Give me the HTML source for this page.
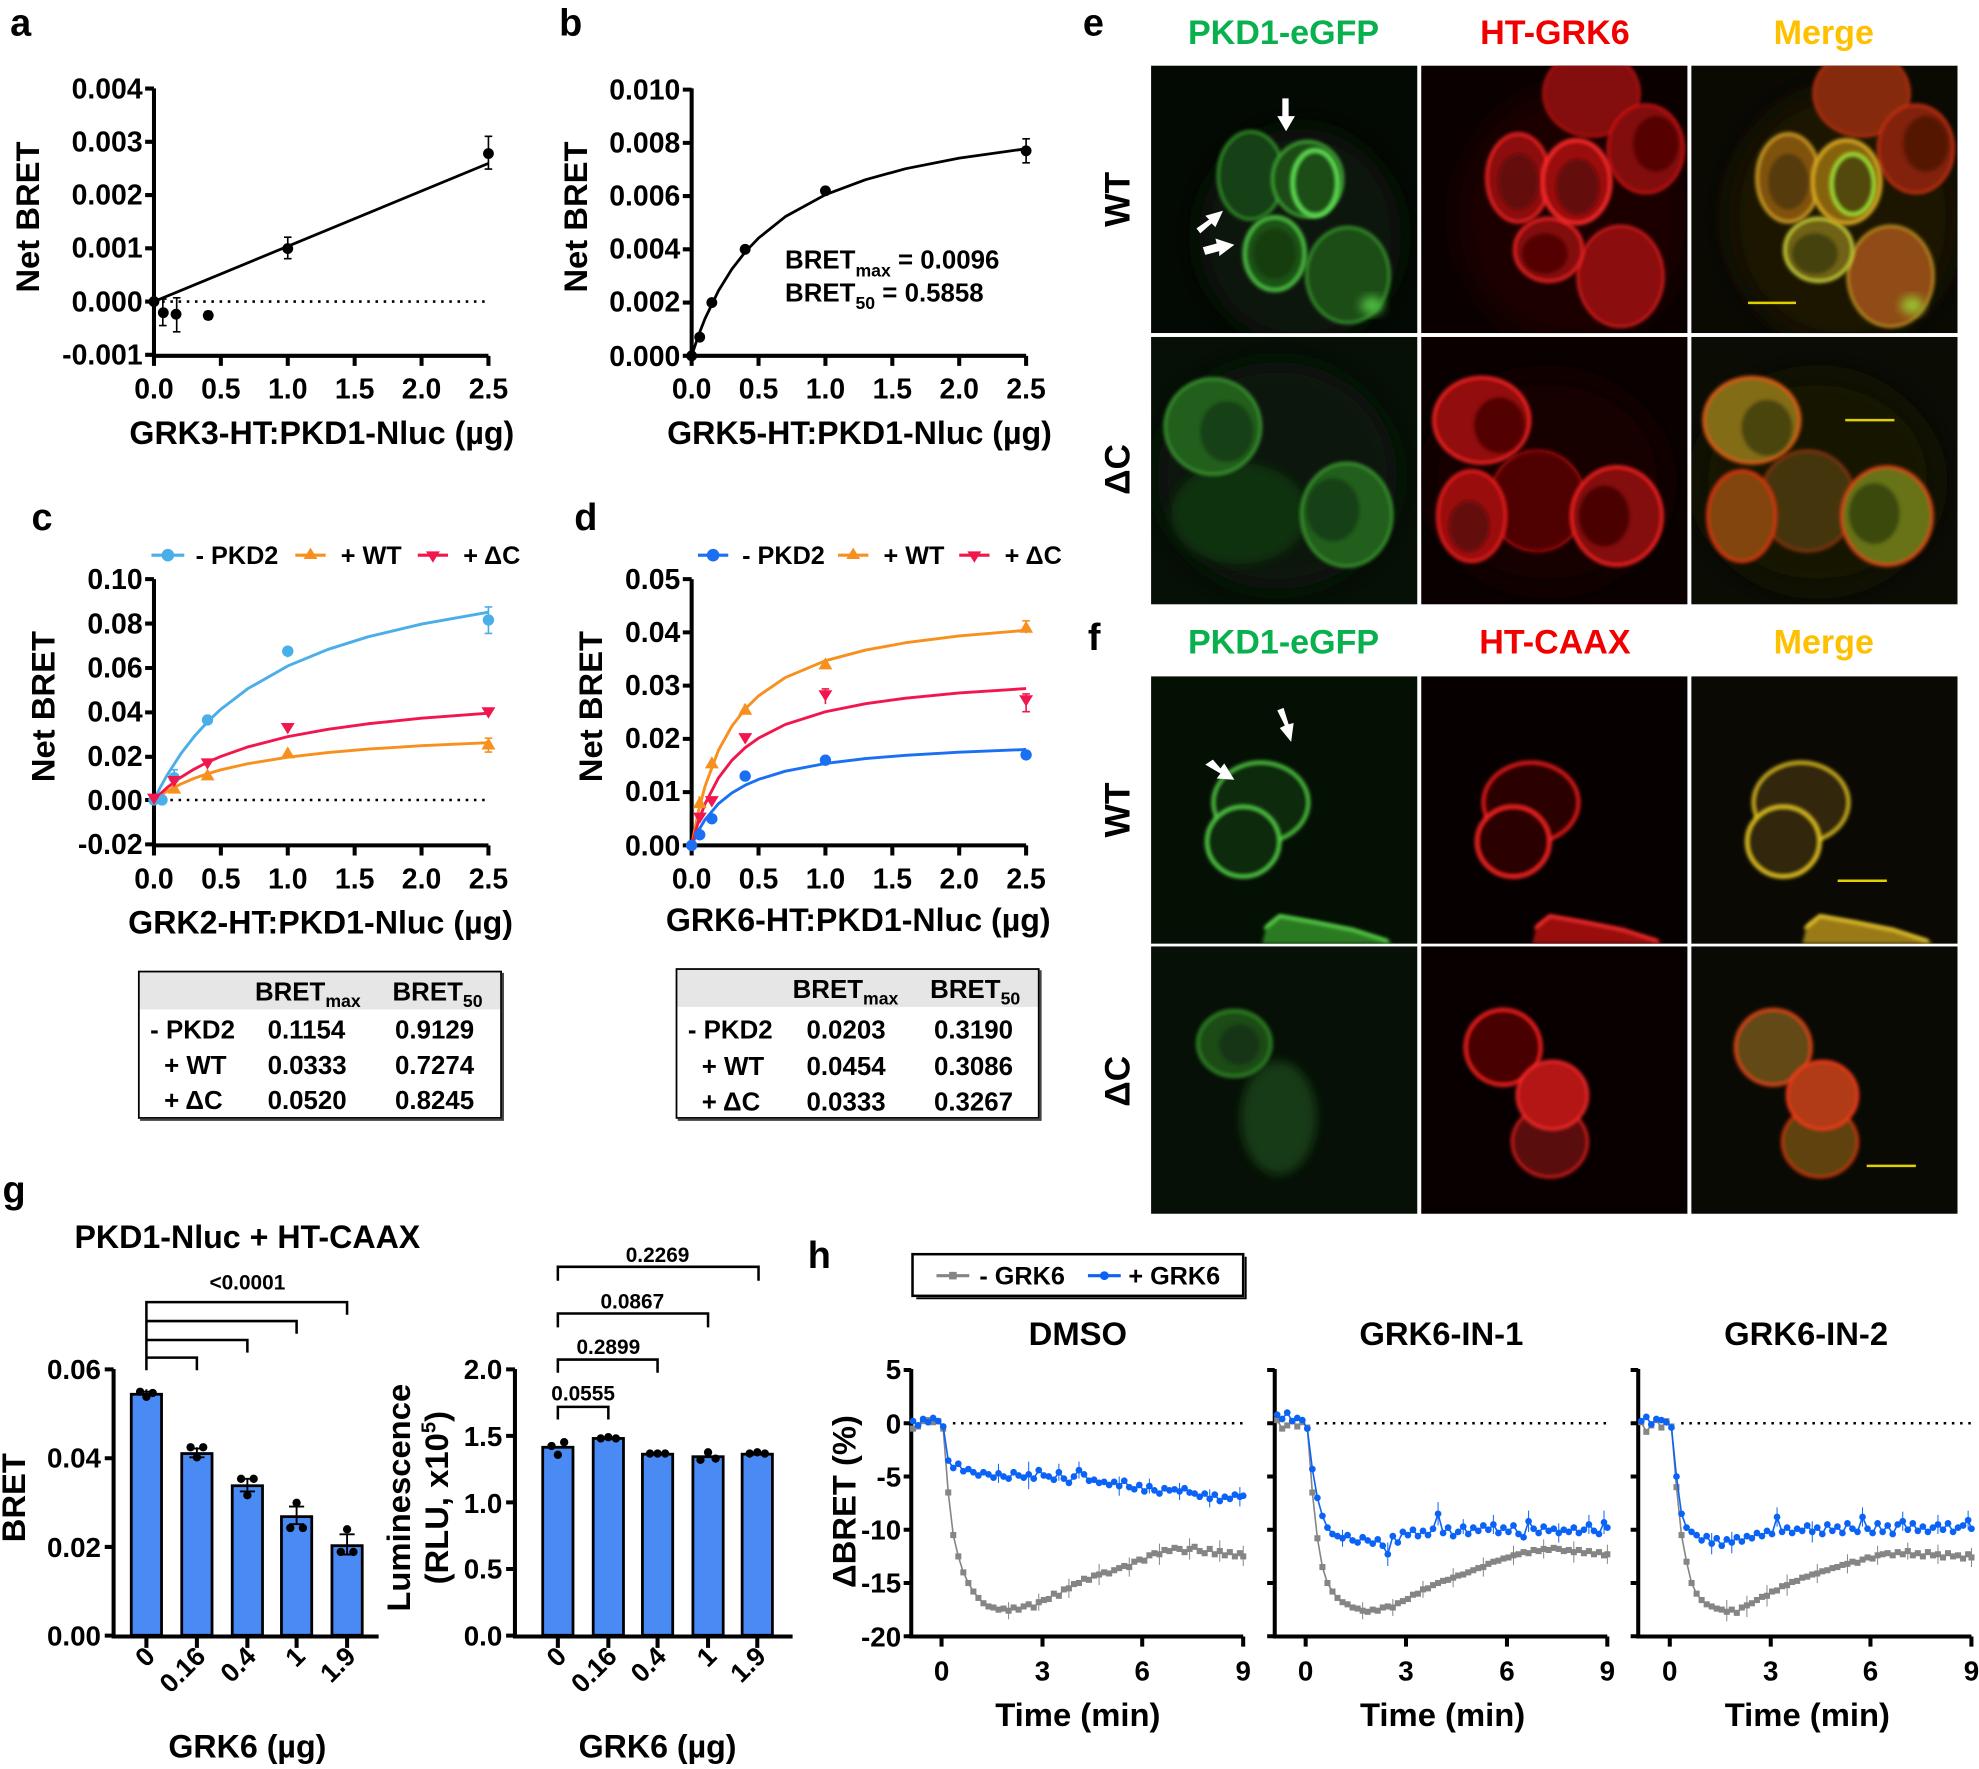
<!DOCTYPE html>
<html>
<head>
<meta charset="utf-8">
<style>
html,body{margin:0;padding:0;background:#fff;}
svg{display:block;}
.t{font-family:"Liberation Sans",Arial,sans-serif;font-weight:bold;fill:#000;}
</style>
</head>
<body>
<svg width="1979" height="1769" viewBox="0 0 1568 1402" preserveAspectRatio="none" xmlns="http://www.w3.org/2000/svg">
<defs>
  <clipPath id="pc"><rect x="0" y="0" width="211" height="212"/></clipPath>
  <filter id="b2" x="-30%" y="-30%" width="160%" height="160%"><feGaussianBlur stdDeviation="1.5"/></filter>
  <filter id="b4" x="-30%" y="-30%" width="160%" height="160%"><feGaussianBlur stdDeviation="4"/></filter>
  <filter id="b10" x="-50%" y="-50%" width="200%" height="200%"><feGaussianBlur stdDeviation="12"/></filter>
  <marker id="msq" markerUnits="userSpaceOnUse" overflow="visible" markerWidth="1" markerHeight="1" refX="0" refY="0"><rect x="-0.09" y="-0.285" width="0.18" height="0.57" fill="#858585"/></marker>
  <marker id="mci" markerUnits="userSpaceOnUse" overflow="visible" markerWidth="1" markerHeight="1" refX="0" refY="0"><ellipse cx="0" cy="0" rx="0.1" ry="0.315" fill="#0b63f6"/></marker>
</defs>

<!-- ================= PANEL a ================= -->
<text class="t" x="8" y="28" font-size="30">a</text>
<g stroke="#000" stroke-width="3.2" fill="none">
  <path d="M122,70 V282 H387"/>
  <path d="M115,70.2H122 M115,112.4H122 M115,154.6H122 M115,196.8H122 M115,239H122 M115,281.2H122"/>
  <path d="M122,282v8 M175,282v8 M228,282v8 M281,282v8 M334,282v8 M387,282v8"/>
</g>
<g class="t" font-size="22.5" text-anchor="end">
  <text x="113" y="78">0.004</text><text x="113" y="120">0.003</text><text x="113" y="162">0.002</text>
  <text x="113" y="204">0.001</text><text x="113" y="247">0.000</text><text x="113" y="289">-0.001</text>
</g>
<g class="t" font-size="22.5" text-anchor="middle">
  <text x="122" y="316">0.0</text><text x="175" y="316">0.5</text><text x="228" y="316">1.0</text>
  <text x="281" y="316">1.5</text><text x="334" y="316">2.0</text><text x="387" y="316">2.5</text>
</g>
<text class="t" font-size="26" text-anchor="middle" transform="translate(31,172) rotate(-90)">Net BRET</text>
<text class="t" font-size="25.5" text-anchor="middle" x="255" y="352">GRK3-HT:PKD1-Nluc (µg)</text>
<line x1="122" y1="239" x2="387" y2="239" stroke="#000" stroke-width="2" stroke-dasharray="2,4.5"/>
<line x1="122" y1="239" x2="387" y2="129.5" stroke="#000" stroke-width="2.2"/>
<g stroke="#000" stroke-width="1.3">
  <path d="M129,237V258 M126,237h6 M126,258h6"/>
  <path d="M140,236V263 M137,236h6 M137,263h6"/>
  <path d="M165,247V253 M162,247h6 M162,253h6"/>
  <path d="M228,188V205 M225,188h6 M225,205h6"/>
  <path d="M387,108V134 M384,108h6 M384,134h6"/>
</g>
<g fill="#000">
  <circle cx="122" cy="239" r="4.3"/><circle cx="129.4" cy="247.8" r="4.3"/><circle cx="139.5" cy="249" r="4.3"/>
  <circle cx="165" cy="250" r="4.3"/><circle cx="228" cy="197" r="4.3"/><circle cx="387" cy="121.7" r="4.3"/>
</g>

<!-- ================= PANEL b ================= -->
<text class="t" x="443" y="28" font-size="30">b</text>
<g stroke="#000" stroke-width="3.2" fill="none">
  <path d="M548,70 V282 H813"/>
  <path d="M541,71H548 M541,113.2H548 M541,155.4H548 M541,197.6H548 M541,239.8H548 M541,282H548"/>
  <path d="M548,282v8 M601,282v8 M654,282v8 M707,282v8 M760,282v8 M813,282v8"/>
</g>
<g class="t" font-size="22.5" text-anchor="end">
  <text x="539" y="79">0.010</text><text x="539" y="121">0.008</text><text x="539" y="163">0.006</text>
  <text x="539" y="205">0.004</text><text x="539" y="247">0.002</text><text x="539" y="290">0.000</text>
</g>
<g class="t" font-size="22.5" text-anchor="middle">
  <text x="548" y="316">0.0</text><text x="601" y="316">0.5</text><text x="654" y="316">1.0</text>
  <text x="707" y="316">1.5</text><text x="760" y="316">2.0</text><text x="813" y="316">2.5</text>
</g>
<text class="t" font-size="26" text-anchor="middle" transform="translate(465,172) rotate(-90)">Net BRET</text>
<text class="t" font-size="25.5" text-anchor="middle" x="681" y="352">GRK5-HT:PKD1-Nluc (µg)</text>
<polyline fill="none" stroke="#000" stroke-width="2.2" stroke-linejoin="round" points="548,282 553.3,266.1 558.6,252.5 569.2,230.5 579.8,213.4 590.4,199.8 601,188.7 622.2,171.7 654,154.3 685.8,142.4 717.6,133.7 760,125.3 813,117.9"/>
<g stroke="#000" stroke-width="1.3"><path d="M813,110V129 M810,110h6 M810,129h6"/></g>
<g fill="#000">
  <circle cx="548" cy="282" r="4.3"/><circle cx="554.4" cy="267.2" r="4.3"/><circle cx="564" cy="239.8" r="4.3"/>
  <circle cx="590.4" cy="197.6" r="4.3"/><circle cx="654" cy="151.2" r="4.3"/><circle cx="813" cy="119.5" r="4.3"/>
</g>
<text class="t" font-size="20.5" x="622" y="213">BRET<tspan font-size="14" dy="6">max</tspan><tspan dy="-6"> = 0.0096</tspan></text>
<text class="t" font-size="20.5" x="622" y="239">BRET<tspan font-size="14" dy="6">50</tspan><tspan dy="-6"> = 0.5858</tspan></text>

<!-- ================= PANEL c ================= -->
<text class="t" x="25" y="420" font-size="30">c</text>
<g>
  <line x1="120" y1="440" x2="146" y2="440" stroke="#4aaee9" stroke-width="2.5"/><circle cx="133" cy="440" r="5" fill="#4aaee9"/>
  <text class="t" font-size="20" x="155" y="447">- PKD2</text>
  <line x1="234" y1="440" x2="258" y2="440" stroke="#f7901e" stroke-width="2.5"/><polygon points="246,434 251.5,443 240.5,443" fill="#f7901e"/>
  <text class="t" font-size="20" x="270" y="447">+ WT</text>
  <line x1="331" y1="440" x2="355" y2="440" stroke="#f2164e" stroke-width="2.5"/><polygon points="343,446 348.5,437 337.5,437" fill="#f2164e"/>
  <text class="t" font-size="20" x="367" y="447">+ ΔC</text>
</g>
<g stroke="#000" stroke-width="3.2" fill="none">
  <path d="M122,459 V670 H387"/>
  <path d="M115,459H122 M115,494.2H122 M115,529.4H122 M115,564.6H122 M115,599.8H122 M115,634H122 M115,669.2H122"/>
  <path d="M122,670v8 M175,670v8 M228,670v8 M281,670v8 M334,670v8 M387,670v8"/>
</g>
<g class="t" font-size="22.5" text-anchor="end">
  <text x="113" y="467">0.10</text><text x="113" y="502">0.08</text><text x="113" y="537">0.06</text>
  <text x="113" y="572">0.04</text><text x="113" y="607">0.02</text><text x="113" y="642">0.00</text><text x="113" y="677">-0.02</text>
</g>
<g class="t" font-size="22.5" text-anchor="middle">
  <text x="122" y="704">0.0</text><text x="175" y="704">0.5</text><text x="228" y="704">1.0</text>
  <text x="281" y="704">1.5</text><text x="334" y="704">2.0</text><text x="387" y="704">2.5</text>
</g>
<text class="t" font-size="26" text-anchor="middle" transform="translate(43,560) rotate(-90)">Net BRET</text>
<text class="t" font-size="25.5" text-anchor="middle" x="254" y="740">GRK2-HT:PKD1-Nluc (µg)</text>
<line x1="122" y1="634" x2="387" y2="634" stroke="#000" stroke-width="2" stroke-dasharray="2,4.5"/>
<polyline fill="none" stroke="#4aaee9" stroke-width="2.3" stroke-linejoin="round" points="122,634 127.3,623.5 132.6,614 143.2,597.5 153.8,583.8 164.4,572.1 175,562.1 196.2,545.9 228,527.8 259.8,514.7 291.6,504.7 334,494.6 387,485.2"/>
<polyline fill="none" stroke="#f7901e" stroke-width="2.3" stroke-linejoin="round" points="122,634 127.3,630.2 132.6,626.9 143.2,621.4 153.8,616.9 164.4,613.2 175,610.1 196.2,605.3 228,600.1 259.8,596.4 291.6,593.7 334,591 387,588.6"/>
<polyline fill="none" stroke="#f2164e" stroke-width="2.3" stroke-linejoin="round" points="122,634 127.3,628.8 132.6,624.1 143.2,616.1 153.8,609.6 164.4,604.1 175,599.5 196.2,592 228,583.8 259.8,578 291.6,573.6 334,569.2 387,565.2"/>
<g stroke-width="1.3">
  <path d="M138,610V623 M135,610h6" stroke="#4aaee9"/>
  <path d="M228,512V521 M387,481V502 M384,481h6 M384,502h6" stroke="#4aaee9"/>
  <path d="M387,585V596 M384,585h6 M384,596h6" stroke="#f7901e"/>
</g>
<g fill="#4aaee9">
  <circle cx="122" cy="634" r="4.5"/><circle cx="128.4" cy="634" r="4.5"/><circle cx="138" cy="616.4" r="4.5"/>
  <circle cx="164.4" cy="570.6" r="4.5"/><circle cx="228" cy="516.1" r="4.5"/><circle cx="387" cy="491.4" r="4.5"/>
</g>
<g fill="#f7901e">
  <polygon points="138,619.5 143.5,629 132.5,629"/><polygon points="164.4,609 170,618.5 159,618.5"/>
  <polygon points="228,591.5 233.5,601 222.5,601"/><polygon points="387,584.5 392.5,594 381.5,594"/>
</g>
<g fill="#f2164e">
  <polygon points="122,638 127.5,629 116.5,629"/><polygon points="138,624 143.5,615 132.5,615"/>
  <polygon points="164.4,610 170,601 159,601"/><polygon points="228,582 233.5,573 222.5,573"/>
  <polygon points="387,569.5 392.5,560.5 381.5,560.5"/>
</g>

<!-- ================= PANEL d ================= -->
<text class="t" x="455" y="420" font-size="30">d</text>
<g>
  <line x1="553" y1="440" x2="577" y2="440" stroke="#1a6ff2" stroke-width="2.5"/><circle cx="565" cy="440" r="5" fill="#1a6ff2"/>
  <text class="t" font-size="20" x="588" y="447">- PKD2</text>
  <line x1="664" y1="440" x2="688" y2="440" stroke="#f7901e" stroke-width="2.5"/><polygon points="676,434 681.5,443 670.5,443" fill="#f7901e"/>
  <text class="t" font-size="20" x="700" y="447">+ WT</text>
  <line x1="760" y1="440" x2="784" y2="440" stroke="#f2164e" stroke-width="2.5"/><polygon points="772,446 777.5,437 766.5,437" fill="#f2164e"/>
  <text class="t" font-size="20" x="796" y="447">+ ΔC</text>
</g>
<g stroke="#000" stroke-width="3.2" fill="none">
  <path d="M548,459 V670 H813"/>
  <path d="M541,459H548 M541,501.2H548 M541,543.4H548 M541,585.6H548 M541,627.8H548 M541,670H548"/>
  <path d="M548,670v8 M601,670v8 M654,670v8 M707,670v8 M760,670v8 M813,670v8"/>
</g>
<g class="t" font-size="22.5" text-anchor="end">
  <text x="539" y="467">0.05</text><text x="539" y="509">0.04</text><text x="539" y="551">0.03</text>
  <text x="539" y="593">0.02</text><text x="539" y="635">0.01</text><text x="539" y="678">0.00</text>
</g>
<g class="t" font-size="22.5" text-anchor="middle">
  <text x="548" y="704">0.0</text><text x="601" y="704">0.5</text><text x="654" y="704">1.0</text>
  <text x="707" y="704">1.5</text><text x="760" y="704">2.0</text><text x="813" y="704">2.5</text>
</g>
<text class="t" font-size="26" text-anchor="middle" transform="translate(477,560) rotate(-90)">Net BRET</text>
<text class="t" font-size="25.5" text-anchor="middle" x="680" y="738">GRK6-HT:PKD1-Nluc (µg)</text>
<polyline fill="none" stroke="#1a6ff2" stroke-width="2.3" stroke-linejoin="round" points="548,670 553.3,658.4 558.6,649.6 569.2,637 579.8,628.5 590.4,622.3 601,617.7 622.2,611.2 654,605.1 685.8,601.2 717.6,598.6 760,596.1 813,594"/>
<polyline fill="none" stroke="#f7901e" stroke-width="2.3" stroke-linejoin="round" points="548,670 553.3,643.3 558.6,623.1 569.2,594.7 579.8,575.6 590.4,561.9 601,551.5 622.2,537 654,523.6 685.8,515.2 717.6,509.4 760,504 813,499.5"/>
<polyline fill="none" stroke="#f2164e" stroke-width="2.3" stroke-linejoin="round" points="548,670 553.3,651.3 558.6,637.1 569.2,616.6 579.8,602.7 590.4,592.6 601,585 622.2,574.2 654,564.1 685.8,557.7 717.6,553.3 760,549.2 813,545.7"/>
<g stroke-width="1.3">
  <path d="M554,631V641 M564,600V609 M590,558V566 M654,523V530 M813,492V502 M810,492h6" stroke="#f7901e"/>
  <path d="M654,546V558 M651,546h6 M813,550V564 M810,550h6 M810,564h6" stroke="#f2164e"/>
</g>
<g fill="#1a6ff2">
  <circle cx="548" cy="670" r="4.5"/><circle cx="554.4" cy="661.6" r="4.5"/><circle cx="564" cy="648.9" r="4.5"/>
  <circle cx="590.4" cy="615.1" r="4.5"/><circle cx="654" cy="602.5" r="4.5"/><circle cx="813" cy="598.3" r="4.5"/>
</g>
<g fill="#f7901e">
  <polygon points="554.4,631 560,640.5 549,640.5"/><polygon points="564,599.5 569.5,609 558.5,609"/>
  <polygon points="590.4,557 596,566.5 585,566.5"/><polygon points="654,521 659.5,530.5 648.5,530.5"/>
  <polygon points="813,492 818.5,501.5 807.5,501.5"/>
</g>
<g fill="#f2164e">
  <polygon points="554.4,653 560,644 549,644"/><polygon points="564,640 569.5,631 558.5,631"/>
  <polygon points="590.4,590 596,581 585,581"/><polygon points="654,556 659.5,547 648.5,547"/>
  <polygon points="813,560 818.5,551 807.5,551"/>
</g>

<!-- ================= TABLES ================= -->
<g>
  <rect x="110" y="770" width="287" height="30" fill="#e6e6e6"/>
  <rect x="110" y="770" width="287" height="116" fill="none" stroke="#000" stroke-width="1.4"/>
  <path d="M111,887.5H398.5V771" fill="none" stroke="#444" stroke-width="1.6"/>
  <g class="t" font-size="20.5">
    <text x="202" y="793">BRET<tspan font-size="14" dy="5">max</tspan></text>
    <text x="311" y="793">BRET<tspan font-size="14" dy="5">50</tspan></text>
    <text x="119" y="823">- PKD2</text><text x="212" y="823">0.1154</text><text x="313" y="823">0.9129</text>
    <text x="130" y="851">+ WT</text><text x="212" y="851">0.0333</text><text x="313" y="851">0.7274</text>
    <text x="130" y="879">+ ΔC</text><text x="212" y="879">0.0520</text><text x="313" y="879">0.8245</text>
  </g>
</g>
<g>
  <rect x="536" y="768" width="287" height="30" fill="#e6e6e6"/>
  <rect x="536" y="768" width="287" height="118" fill="none" stroke="#000" stroke-width="1.4"/>
  <path d="M537,887.5H824.5V769" fill="none" stroke="#444" stroke-width="1.6"/>
  <g class="t" font-size="20.5">
    <text x="628" y="791">BRET<tspan font-size="14" dy="5">max</tspan></text>
    <text x="737" y="791">BRET<tspan font-size="14" dy="5">50</tspan></text>
    <text x="545" y="823">- PKD2</text><text x="639" y="823">0.0203</text><text x="740" y="823">0.3190</text>
    <text x="556" y="852">+ WT</text><text x="639" y="852">0.0454</text><text x="740" y="852">0.3086</text>
    <text x="556" y="880">+ ΔC</text><text x="639" y="880">0.0333</text><text x="740" y="880">0.3267</text>
  </g>
</g>

<!-- ================= PANEL e / f headers ================= -->
<text class="t" x="858" y="28" font-size="30">e</text>
<text class="t" x="862" y="515" font-size="30">f</text>
<g class="t" font-size="27" text-anchor="middle">
  <text x="1017" y="35" style="fill:#08b04e">PKD1-eGFP</text>
  <text x="1232" y="35" style="fill:#f20000">HT-GRK6</text>
  <text x="1445" y="35" style="fill:#ffc000">Merge</text>
  <text x="1017" y="518" style="fill:#08b04e">PKD1-eGFP</text>
  <text x="1232" y="518" style="fill:#f20000">HT-CAAX</text>
  <text x="1445" y="518" style="fill:#ffc000">Merge</text>
</g>
<g class="t" font-size="28" text-anchor="middle">
  <text transform="translate(895,158) rotate(-90)">WT</text>
  <text transform="translate(895,372) rotate(-90)">ΔC</text>
  <text transform="translate(895,642) rotate(-90)">WT</text>
  <text transform="translate(895,857) rotate(-90)">ΔC</text>
</g>

<!-- e WT green -->
<g transform="translate(912,52)" clip-path="url(#pc)">
  <rect width="211" height="212" fill="#030903"/>
  <ellipse cx="118" cy="135" rx="80" ry="85" fill="#091909" filter="url(#b10)"/>
  <ellipse cx="156" cy="166" rx="33" ry="38" fill="#1a4e15" stroke="#37982e" stroke-width="2" filter="url(#b2)"/>
  <ellipse cx="98" cy="149" rx="24" ry="29" fill="#1b5216" stroke="#4cc042" stroke-width="3" filter="url(#b2)"/>
  <ellipse cx="98" cy="149" rx="17" ry="20" fill="#123e10" filter="url(#b2)"/>
  <ellipse cx="79" cy="87" rx="26" ry="35" fill="#163f13" stroke="#35962c" stroke-width="2" filter="url(#b2)"/>
  <ellipse cx="124" cy="90" rx="28" ry="30" fill="#1a4c15" stroke="#42ae38" stroke-width="2" filter="url(#b2)"/>
  <ellipse cx="130" cy="93" rx="18" ry="26" fill="#1a4e15" stroke="#5fe052" stroke-width="3.5" filter="url(#b2)"/>
  <ellipse cx="175" cy="190" rx="9" ry="7" fill="#4fbe42" filter="url(#b4)"/>
  <g fill="#fff">
    <polygon points="104,26 109,26 109,40 114,40 107,52 100,40 104,40"/>
    <polygon points="36,129 46,122 43,119 57,115 51,128 48,125 39,133"/>
    <polygon points="41,144 52,141 51,137 66,142 54,151 54,147 43,150"/>
  </g>
</g>
<!-- e WT red -->
<g transform="translate(1126,52)" clip-path="url(#pc)">
  <rect width="211" height="212" fill="#0b0000"/>
  <ellipse cx="120" cy="120" rx="90" ry="100" fill="#1c0101" filter="url(#b10)"/>
  <ellipse cx="135" cy="22" rx="38" ry="34" fill="#840b0b" stroke="#b81414" stroke-width="2" filter="url(#b2)"/>
  <ellipse cx="178" cy="66" rx="30" ry="35" fill="#820a0a" stroke="#d01818" stroke-width="2" filter="url(#b2)"/>
  <ellipse cx="186" cy="62" rx="18" ry="22" fill="#560606" filter="url(#b2)"/>
  <ellipse cx="158" cy="167" rx="34" ry="40" fill="#8c0c0c" stroke="#d41a1a" stroke-width="2" filter="url(#b2)"/>
  <ellipse cx="101" cy="146" rx="27" ry="25" fill="#820a0a" stroke="#ea2020" stroke-width="2.5" filter="url(#b2)"/>
  <ellipse cx="98" cy="149" rx="18" ry="16" fill="#540505" filter="url(#b2)"/>
  <ellipse cx="77" cy="89" rx="25" ry="35" fill="#8c0c0c" stroke="#ea2222" stroke-width="2.5" filter="url(#b2)"/>
  <ellipse cx="123" cy="92" rx="27" ry="33" fill="#9a0f0f" stroke="#ff2a2a" stroke-width="3" filter="url(#b2)"/>
  <ellipse cx="124" cy="96" rx="17" ry="22" fill="#640707" filter="url(#b2)"/>
  <ellipse cx="77" cy="92" rx="16" ry="22" fill="#640707" filter="url(#b2)"/>
</g>
<!-- e WT merge -->
<g transform="translate(1340,52)" clip-path="url(#pc)">
  <rect width="211" height="212" fill="#0a0a03"/>
  <ellipse cx="120" cy="120" rx="90" ry="100" fill="#1c1304" filter="url(#b10)"/>
  <ellipse cx="135" cy="22" rx="38" ry="34" fill="#862a0c" stroke="#b83010" stroke-width="2" filter="url(#b2)"/>
  <ellipse cx="178" cy="66" rx="30" ry="35" fill="#82240c" stroke="#c83012" stroke-width="2" filter="url(#b2)"/>
  <ellipse cx="186" cy="62" rx="18" ry="22" fill="#541606" filter="url(#b2)"/>
  <ellipse cx="158" cy="167" rx="34" ry="40" fill="#904c14" stroke="#c09020" stroke-width="2" filter="url(#b2)"/>
  <ellipse cx="101" cy="146" rx="27" ry="25" fill="#706214" stroke="#c8d03a" stroke-width="2.5" filter="url(#b2)"/>
  <ellipse cx="98" cy="149" rx="18" ry="16" fill="#444208" filter="url(#b2)"/>
  <ellipse cx="77" cy="89" rx="25" ry="35" fill="#80520f" stroke="#d09c26" stroke-width="2.5" filter="url(#b2)"/>
  <ellipse cx="123" cy="92" rx="27" ry="33" fill="#86620f" stroke="#d8a820" stroke-width="3" filter="url(#b2)"/>
  <ellipse cx="128" cy="94" rx="17" ry="24" fill="#524a0c" stroke="#a0e036" stroke-width="3" filter="url(#b2)"/>
  <ellipse cx="77" cy="92" rx="16" ry="22" fill="#563a0a" filter="url(#b2)"/>
  <ellipse cx="175" cy="190" rx="9" ry="7" fill="#98c42e" filter="url(#b4)"/>
  <line x1="45" y1="188" x2="83" y2="188" stroke="#e0d000" stroke-width="2"/>
</g>

<!-- e dC green -->
<g transform="translate(912,267)" clip-path="url(#pc)">
  <rect width="211" height="212" fill="#061006"/>
  <ellipse cx="100" cy="110" rx="95" ry="90" fill="#091709" filter="url(#b10)"/>
  <ellipse cx="70" cy="140" rx="54" ry="40" fill="#113210" filter="url(#b4)"/>
  <ellipse cx="49" cy="71" rx="38" ry="38" fill="#225e1c" stroke="#3c9c32" stroke-width="2" filter="url(#b2)"/>
  <ellipse cx="60" cy="75" rx="21" ry="24" fill="#173f14" filter="url(#b2)"/>
  <ellipse cx="155" cy="141" rx="36" ry="41" fill="#225e1c" stroke="#3c9c32" stroke-width="2" filter="url(#b2)"/>
  <ellipse cx="144" cy="137" rx="21" ry="25" fill="#183f14" filter="url(#b2)"/>
</g>
<!-- e dC red -->
<g transform="translate(1126,267)" clip-path="url(#pc)">
  <rect width="211" height="212" fill="#0a0000"/>
  <ellipse cx="100" cy="115" rx="95" ry="85" fill="#180101" filter="url(#b10)"/>
  <ellipse cx="92" cy="130" rx="38" ry="40" fill="#500606" stroke="#981010" stroke-width="2" filter="url(#b2)"/>
  <ellipse cx="40" cy="142" rx="27" ry="36" fill="#9a1010" stroke="#e81e1e" stroke-width="2.5" filter="url(#b2)"/>
  <ellipse cx="38" cy="150" rx="16" ry="20" fill="#640707" filter="url(#b2)"/>
  <ellipse cx="48" cy="66" rx="38" ry="34" fill="#920e0e" stroke="#f82222" stroke-width="2.5" filter="url(#b2)"/>
  <ellipse cx="62" cy="70" rx="20" ry="22" fill="#520505" filter="url(#b2)"/>
  <ellipse cx="155" cy="142" rx="36" ry="39" fill="#840c0c" stroke="#f82020" stroke-width="2.5" filter="url(#b2)"/>
  <ellipse cx="145" cy="142" rx="20" ry="24" fill="#4c0505" filter="url(#b2)"/>
</g>
<!-- e dC merge -->
<g transform="translate(1340,267)" clip-path="url(#pc)">
  <rect width="211" height="212" fill="#0b0c04"/>
  <ellipse cx="100" cy="115" rx="95" ry="85" fill="#171204" filter="url(#b10)"/>
  <ellipse cx="92" cy="130" rx="38" ry="40" fill="#443408" stroke="#883010" stroke-width="2" filter="url(#b2)"/>
  <ellipse cx="40" cy="142" rx="27" ry="36" fill="#824410" stroke="#d83010" stroke-width="2.5" filter="url(#b2)"/>
  <ellipse cx="48" cy="66" rx="38" ry="34" fill="#826c16" stroke="#e05a18" stroke-width="2.5" filter="url(#b2)"/>
  <ellipse cx="60" cy="72" rx="20" ry="22" fill="#48440c" filter="url(#b2)"/>
  <ellipse cx="155" cy="142" rx="36" ry="39" fill="#687218" stroke="#d83c16" stroke-width="2.5" filter="url(#b2)"/>
  <ellipse cx="145" cy="140" rx="20" ry="24" fill="#3a4a0e" filter="url(#b2)"/>
  <line x1="122" y1="66" x2="161" y2="66" stroke="#e0d000" stroke-width="2"/>
</g>

<!-- f WT green -->
<g transform="translate(912,536)" clip-path="url(#pc)">
  <rect width="211" height="212" fill="#051005"/>
  <ellipse cx="87" cy="100" rx="38" ry="32" fill="#102c0e" stroke="#52d044" stroke-width="2.3" filter="url(#b2)"/>
  <ellipse cx="73" cy="131" rx="29" ry="28" fill="#0f2a0d" stroke="#58d84a" stroke-width="2.5" filter="url(#b2)"/>
  <path d="M88,212 L92,196 L102,189 L130,194 L160,200 L185,208 L192,212 Z" fill="#2a7a22" filter="url(#b2)"/>
  <path d="M90,200 L102,190 L130,195 L160,201 L188,210" fill="none" stroke="#5ee050" stroke-width="2.5" filter="url(#b2)"/>
  <g fill="#fff">
    <polygon points="100,27 105,25 109,38 113,37 111,52 102,41 106,39"/>
    <polygon points="43,70 49,66 55,73 58,69 66,82 52,81 55,77"/>
  </g>
</g>
<!-- f WT red -->
<g transform="translate(1126,536)" clip-path="url(#pc)">
  <rect width="211" height="212" fill="#070000"/>
  <ellipse cx="87" cy="100" rx="38" ry="32" fill="#2c0303" stroke="#f21e1e" stroke-width="2.3" filter="url(#b2)"/>
  <ellipse cx="73" cy="131" rx="29" ry="28" fill="#2c0303" stroke="#ff2626" stroke-width="2.8" filter="url(#b2)"/>
  <path d="M88,212 L92,196 L102,189 L130,194 L160,200 L185,208 L192,212 Z" fill="#9a1010" filter="url(#b2)"/>
  <path d="M90,200 L102,190 L130,195 L160,201 L188,210" fill="none" stroke="#ff3030" stroke-width="2.5" filter="url(#b2)"/>
</g>
<!-- f WT merge -->
<g transform="translate(1340,536)" clip-path="url(#pc)">
  <rect width="211" height="212" fill="#0a0904"/>
  <ellipse cx="87" cy="100" rx="38" ry="32" fill="#322808" stroke="#e0c024" stroke-width="2.3" filter="url(#b2)"/>
  <ellipse cx="73" cy="131" rx="29" ry="28" fill="#302608" stroke="#e8c824" stroke-width="2.8" filter="url(#b2)"/>
  <path d="M88,212 L92,196 L102,189 L130,194 L160,200 L185,208 L192,212 Z" fill="#9a7a18" filter="url(#b2)"/>
  <path d="M90,200 L102,190 L130,195 L160,201 L188,210" fill="none" stroke="#f0d030" stroke-width="2.5" filter="url(#b2)"/>
  <line x1="116" y1="162" x2="155" y2="162" stroke="#e0d000" stroke-width="2"/>
</g>

<!-- f dC green -->
<g transform="translate(912,750)" clip-path="url(#pc)">
  <rect width="211" height="212" fill="#061006"/>
  <ellipse cx="101" cy="136" rx="30" ry="45" fill="#153a12" filter="url(#b4)"/>
  <ellipse cx="66" cy="77" rx="29" ry="26" fill="#1a4c16" stroke="#2a7a22" stroke-width="3" filter="url(#b2)"/>
  <ellipse cx="70" cy="78" rx="16" ry="16" fill="#143412" filter="url(#b2)"/>
</g>
<!-- f dC red -->
<g transform="translate(1126,750)" clip-path="url(#pc)">
  <rect width="211" height="212" fill="#080000"/>
  <ellipse cx="102" cy="155" rx="30" ry="28" fill="#5a0707" stroke="#d81e1e" stroke-width="2" filter="url(#b2)"/>
  <ellipse cx="65" cy="80" rx="30" ry="30" fill="#4a0606" stroke="#ff2424" stroke-width="2.5" filter="url(#b2)"/>
  <ellipse cx="104" cy="118" rx="28" ry="27" fill="#b41616" stroke="#ff2a2a" stroke-width="2" filter="url(#b2)"/>
</g>
<!-- f dC merge -->
<g transform="translate(1340,750)" clip-path="url(#pc)">
  <rect width="211" height="212" fill="#0a0a04"/>
  <ellipse cx="102" cy="155" rx="30" ry="28" fill="#5e4210" stroke="#d03010" stroke-width="2" filter="url(#b2)"/>
  <ellipse cx="65" cy="80" rx="30" ry="30" fill="#624a12" stroke="#e04414" stroke-width="2.5" filter="url(#b2)"/>
  <ellipse cx="104" cy="118" rx="28" ry="27" fill="#b03a18" stroke="#ff3a1a" stroke-width="2" filter="url(#b2)"/>
  <line x1="139" y1="174" x2="178" y2="174" stroke="#e0d000" stroke-width="2"/>
</g>

<!-- ================= PANEL g ================= -->
<text class="t" x="2" y="953" font-size="30">g</text>
<text class="t" x="196" y="989" font-size="25.5" text-anchor="middle">PKD1-Nluc + HT-CAAX</text>
<!-- left chart -->
<g stroke="#000" stroke-width="2" fill="none">
  <path d="M116,1086V1032H275V1042 M116,1047H235V1057 M116,1062H196V1072 M116,1076H156V1086"/>
</g>
<text class="t" x="196" y="1022" font-size="16.5" text-anchor="middle">&lt;0.0001</text>
<g fill="#4a8af5" stroke="#000" stroke-width="2.2">
  <rect x="104" y="1105" width="24" height="191"/>
  <rect x="144" y="1152" width="24" height="144"/>
  <rect x="184" y="1177.5" width="24" height="118.5"/>
  <rect x="223" y="1202" width="24" height="94"/>
  <rect x="263" y="1225" width="24" height="71"/>
</g>
<g stroke="#000" stroke-width="1.5">
  <path d="M110,1103h12 M116,1101v4"/>
  <path d="M150,1148h12 M156,1147v8 M150,1155h12"/>
  <path d="M190,1172h12 M196,1172v10 M190,1182h12"/>
  <path d="M229,1194h12 M235,1194v14 M229,1208h12"/>
  <path d="M269,1216h12 M275,1216v16 M269,1232h12"/>
</g>
<g fill="#000">
  <circle cx="111" cy="1103" r="3.3"/><circle cx="116" cy="1107" r="3.3"/><circle cx="121" cy="1104" r="3.3"/>
  <circle cx="151" cy="1147" r="3.3"/><circle cx="156" cy="1155" r="3.3"/><circle cx="161" cy="1147" r="3.3"/>
  <circle cx="191" cy="1172" r="3.3"/><circle cx="196" cy="1185" r="3.3"/><circle cx="201" cy="1172" r="3.3"/>
  <circle cx="230" cy="1211" r="3.3"/><circle cx="235" cy="1191" r="3.3"/><circle cx="240" cy="1211" r="3.3"/>
  <circle cx="270" cy="1230" r="3.3"/><circle cx="275" cy="1212" r="3.3"/><circle cx="280" cy="1230" r="3.3"/>
</g>
<g stroke="#000" stroke-width="3.2" fill="none">
  <path d="M90,1085 V1297 H300"/>
  <path d="M83,1085.3H90 M83,1155.7H90 M83,1226H90 M83,1296.3H90"/>
  <path d="M116,1297v9 M156,1297v9 M196,1297v9 M235,1297v9 M275,1297v9"/>
</g>
<g class="t" font-size="22" text-anchor="end">
  <text x="80" y="1093">0.06</text><text x="80" y="1163">0.04</text><text x="80" y="1234">0.02</text><text x="80" y="1304">0.00</text>
</g>
<g class="t" font-size="21" text-anchor="end">
  <text transform="translate(124,1314) rotate(-45)">0</text>
  <text transform="translate(164,1314) rotate(-45)">0.16</text>
  <text transform="translate(204,1314) rotate(-45)">0.4</text>
  <text transform="translate(243,1314) rotate(-45)">1</text>
  <text transform="translate(283,1314) rotate(-45)">1.9</text>
</g>
<text class="t" font-size="26" text-anchor="middle" transform="translate(20,1187) rotate(-90)">BRET</text>
<text class="t" font-size="25.5" text-anchor="middle" x="196" y="1393">GRK6 (µg)</text>

<!-- right chart -->
<g stroke="#000" stroke-width="2" fill="none">
  <path d="M442,1015V1004H601V1015"/>
  <path d="M442,1052V1041H561V1052"/>
  <path d="M442,1088V1077.5H521V1088"/>
  <path d="M442,1125V1115H482V1125"/>
</g>
<g class="t" font-size="16.5" text-anchor="middle">
  <text x="521" y="1000">0.2269</text><text x="501" y="1037">0.0867</text>
  <text x="482" y="1073">0.2899</text><text x="462" y="1110">0.0555</text>
</g>
<g fill="#4a8af5" stroke="#000" stroke-width="2.2">
  <rect x="430" y="1147" width="24" height="149"/>
  <rect x="470" y="1140" width="24" height="156"/>
  <rect x="509" y="1152.5" width="24" height="143.5"/>
  <rect x="549" y="1154.5" width="24" height="141.5"/>
  <rect x="588" y="1152.5" width="24" height="143.5"/>
</g>
<g fill="#000">
  <circle cx="437" cy="1146" r="3.3"/><circle cx="442" cy="1153" r="3.3"/><circle cx="447" cy="1143" r="3.3"/>
  <circle cx="476" cy="1140" r="3.3"/><circle cx="482" cy="1139" r="3.3"/><circle cx="488" cy="1140" r="3.3"/>
  <circle cx="515" cy="1152" r="3.3"/><circle cx="521" cy="1152" r="3.3"/><circle cx="527" cy="1152" r="3.3"/>
  <circle cx="555" cy="1157" r="3.3"/><circle cx="561" cy="1151" r="3.3"/><circle cx="567" cy="1156" r="3.3"/>
  <circle cx="594" cy="1152" r="3.3"/><circle cx="600" cy="1151" r="3.3"/><circle cx="606" cy="1152" r="3.3"/>
</g>
<g stroke="#000" stroke-width="3.2" fill="none">
  <path d="M408,1085 V1297 H628"/>
  <path d="M401,1085.3H408 M401,1138H408 M401,1190.7H408 M401,1243.5H408 M401,1296.3H408"/>
  <path d="M442,1297v9 M482,1297v9 M521,1297v9 M561,1297v9 M600,1297v9"/>
</g>
<g class="t" font-size="22" text-anchor="end">
  <text x="398" y="1093">2.0</text><text x="398" y="1146">1.5</text><text x="398" y="1199">1.0</text>
  <text x="398" y="1251">0.5</text><text x="398" y="1304">0.0</text>
</g>
<g class="t" font-size="21" text-anchor="end">
  <text transform="translate(450,1314) rotate(-45)">0</text>
  <text transform="translate(490,1314) rotate(-45)">0.16</text>
  <text transform="translate(529,1314) rotate(-45)">0.4</text>
  <text transform="translate(569,1314) rotate(-45)">1</text>
  <text transform="translate(608,1314) rotate(-45)">1.9</text>
</g>
<text class="t" font-size="26" text-anchor="middle" transform="translate(325,1187) rotate(-90)">Luminescence</text>
<text class="t" font-size="26" text-anchor="middle" transform="translate(355,1187) rotate(-90)">(RLU, x10<tspan font-size="16" dy="-10">5</tspan><tspan dy="10">)</tspan></text>
<text class="t" font-size="25.5" text-anchor="middle" x="521" y="1393">GRK6 (µg)</text>

<!-- ================= PANEL h ================= -->
<text class="t" x="640" y="1005" font-size="30">h</text>
<rect x="723" y="994" width="262" height="33" fill="#fff" stroke="#000" stroke-width="2"/>
<path d="M726,1029H987V996" fill="none" stroke="#000" stroke-width="1.5"/>
<line x1="742" y1="1011" x2="768" y2="1011" stroke="#858585" stroke-width="2.5"/><rect x="752" y="1008" width="6" height="6" fill="#858585"/>
<text class="t" font-size="20" x="776" y="1018">- GRK6</text>
<line x1="862" y1="1011" x2="888" y2="1011" stroke="#0b63f6" stroke-width="2.5"/><circle cx="875" cy="1011" r="3.5" fill="#0b63f6"/>
<text class="t" font-size="20" x="894" y="1018">+ GRK6</text>
<g class="t" font-size="26" text-anchor="middle">
  <text x="854" y="1066">DMSO</text><text x="1142" y="1066">GRK6-IN-1</text><text x="1431" y="1066">GRK6-IN-2</text>
</g>
<text class="t" font-size="26" text-anchor="middle" transform="translate(678,1190) rotate(-90)">ΔBRET (%)</text>
<g class="t" font-size="22" text-anchor="end">
  <text x="714" y="1093">5</text><text x="714" y="1136">0</text><text x="714" y="1178">-5</text>
  <text x="714" y="1220">-10</text><text x="714" y="1262">-15</text><text x="714" y="1305">-20</text>
</g>
<g class="t" font-size="22" text-anchor="middle">
  <text x="746" y="1332">0</text><text x="826" y="1332">3</text><text x="905" y="1332">6</text><text x="985" y="1332">9</text>
  <text x="1034.5" y="1332">0</text><text x="1114" y="1332">3</text><text x="1194" y="1332">6</text><text x="1273.5" y="1332">9</text>
  <text x="1323" y="1332">0</text><text x="1403" y="1332">3</text><text x="1482" y="1332">6</text><text x="1562" y="1332">9</text>
</g>
<g class="t" font-size="26" text-anchor="middle">
  <text x="854" y="1368">Time (min)</text><text x="1143" y="1368">Time (min)</text><text x="1432" y="1368">Time (min)</text>
</g>
<g stroke="#000" stroke-width="2" stroke-dasharray="2,4.5">
  <line x1="755" y1="1128" x2="985" y2="1128"/>
  <line x1="1043" y1="1128" x2="1273" y2="1128"/>
  <line x1="1332" y1="1128" x2="1562" y2="1128"/>
</g>
<g stroke="#000" stroke-width="3.2" fill="none">
  <path d="M722,1085 V1297 H985"/>
  <path d="M1010,1085 V1297 H1273.5"/>
  <path d="M1298,1085 V1297 H1562"/>
  <path d="M716,1085.8H722 M716,1128H722 M716,1170.2H722 M716,1212.4H722 M716,1254.6H722 M716,1296.8H722"/>
  <path d="M1004,1085.8H1010 M1004,1128H1010 M1004,1170.2H1010 M1004,1212.4H1010 M1004,1254.6H1010 M1004,1296.8H1010"/>
  <path d="M1292,1085.8H1298 M1292,1128H1298 M1292,1170.2H1298 M1292,1212.4H1298 M1292,1254.6H1298 M1292,1296.8H1298"/>
  <path d="M746,1297v8 M826,1297v8 M905,1297v8 M985,1297v8"/>
  <path d="M1034.5,1297v8 M1114,1297v8 M1194,1297v8 M1273.5,1297v8"/>
  <path d="M1323,1297v8 M1403,1297v8 M1482,1297v8 M1562,1297v8"/>
</g>

<!-- DMSO -->
<g transform="translate(746,1128) scale(26.56,-8.44)">
  <path fill="none" stroke="#858585" stroke-width="1" vector-effect="non-scaling-stroke" d="M2,-16.8V-18.4 M2.9,-16V-17.6 M3.8,-14.6V-16.4 M4.7,-13.2V-15.2 M5.6,-12.6V-14.4 M6.5,-11.3V-13.3 M7.4,-10.8V-12.8 M8.3,-11V-13 M9,-11.5V-13.4"/>
  <path fill="none" stroke="#0b63f6" stroke-width="1" vector-effect="non-scaling-stroke" d="M1.7,-3.8V-5.6 M2.6,-3.6V-6.2 M3.5,-3.8V-5.4 M4.1,-3.6V-5.2 M5.3,-5V-6.8 M6.2,-5.2V-6.6 M7.1,-5.6V-7.2 M8,-6.2V-7.9 M8.9,-6V-7.8"/>
  <polyline fill="none" stroke="#858585" stroke-width="1.6" vector-effect="non-scaling-stroke" marker-start="url(#msq)" marker-mid="url(#msq)" marker-end="url(#msq)" points="-0.85,-0.5 -0.7,-0.3 -0.55,0.2 -0.4,0.3 -0.25,0.1 -0.1,0.2 0.05,-0.5 0.2,-6.5 0.35,-10.5 0.5,-12.5 0.65,-14 0.8,-15 0.95,-15.8 1.1,-16.4 1.25,-16.9 1.4,-17.2 1.55,-17.3 1.7,-17.5 1.85,-17.4 2,-17.6 2.15,-17.3 2.3,-17.5 2.45,-17.2 2.6,-17 2.75,-17.3 2.9,-16.8 3.05,-16.6 3.2,-16.5 3.35,-16 3.5,-16.2 3.65,-15.6 3.8,-15.5 3.95,-15.1 4.1,-15 4.25,-14.6 4.4,-14.7 4.55,-14.3 4.7,-14.2 4.85,-14 5,-14.1 5.15,-13.8 5.3,-13.6 5.45,-13.4 5.6,-13.5 5.75,-13 5.9,-12.8 6.05,-12.9 6.2,-12.4 6.35,-12.2 6.5,-12.3 6.65,-11.9 6.8,-12 6.95,-11.7 7.1,-11.8 7.25,-12.1 7.4,-11.8 7.55,-11.6 7.7,-12 7.85,-12.2 8,-11.8 8.15,-12.3 8.3,-12 8.45,-12.4 8.6,-12.1 8.75,-12.5 8.9,-12.2 9,-12.5"/>
  <polyline fill="none" stroke="#0b63f6" stroke-width="1.6" vector-effect="non-scaling-stroke" marker-start="url(#mci)" marker-mid="url(#mci)" marker-end="url(#mci)" points="-0.85,0.2 -0.7,-0.2 -0.55,0.4 -0.4,0.1 -0.25,0.5 -0.1,0.2 0.05,-0.3 0.2,-3.5 0.35,-4.2 0.5,-3.8 0.65,-4.5 0.8,-4.3 0.95,-4.6 1.1,-4.9 1.25,-4.6 1.4,-4.8 1.55,-5.1 1.7,-4.7 1.85,-5 2,-5.2 2.15,-4.6 2.3,-4.9 2.45,-5.1 2.6,-4.8 2.75,-5.2 2.9,-4.4 3.05,-4.9 3.2,-5 3.35,-5.3 3.5,-4.6 3.65,-5.2 3.8,-5.6 3.95,-5 4.1,-4.4 4.25,-4.8 4.4,-5.4 4.55,-5.3 4.7,-5.6 4.85,-5.5 5,-5.8 5.15,-5.5 5.3,-5.9 5.45,-5.4 5.6,-6 5.75,-6.2 5.9,-5.8 6.05,-6.4 6.2,-5.9 6.35,-6.3 6.5,-6.6 6.65,-6.1 6.8,-6.3 6.95,-6.2 7.1,-6.4 7.25,-6.1 7.4,-6.5 7.55,-6.6 7.7,-6.9 7.85,-6.6 8,-7.1 8.15,-6.7 8.3,-7.3 8.45,-6.9 8.6,-7.1 8.75,-6.7 8.9,-6.9 9,-6.8"/>
</g>
<!-- GRK6-IN-1 -->
<g transform="translate(1034.5,1128) scale(26.56,-8.44)">
  <path fill="none" stroke="#858585" stroke-width="1" vector-effect="non-scaling-stroke" d="M1.7,-16.8V-18.4 M2.6,-16.5V-18.1 M3.5,-14.8V-16.4 M4.4,-13.6V-15.4 M5.3,-12.6V-14.4 M6.2,-11.5V-13.3 M7.1,-10.9V-12.7 M8,-11.1V-13.1 M9,-11.4V-13.2"/>
  <path fill="none" stroke="#0b63f6" stroke-width="1" vector-effect="non-scaling-stroke" d="M1.1,-10V-11.6 M2.45,-11.2V-13.4 M3.95,-7.4V-9.6 M4.7,-9V-10.4 M5.6,-8.6V-10.4 M6.65,-8.2V-10.2 M7.55,-9.4V-11.2 M8.45,-8.6V-10.4 M8.9,-8.2V-10.4"/>
  <polyline fill="none" stroke="#858585" stroke-width="1.6" vector-effect="non-scaling-stroke" marker-start="url(#msq)" marker-mid="url(#msq)" marker-end="url(#msq)" points="-0.85,0.3 -0.7,-0.5 -0.55,-0.2 -0.4,0.2 -0.25,-0.3 -0.1,0.1 0.05,-0.4 0.2,-6.5 0.35,-10.8 0.5,-13.5 0.65,-15 0.8,-15.8 0.95,-16.4 1.1,-16.8 1.25,-17 1.4,-17.3 1.55,-17.4 1.7,-17.6 1.85,-17.7 2,-17.5 2.15,-17.6 2.3,-17.3 2.45,-17.2 2.6,-17.3 2.75,-16.9 2.9,-16.7 3.05,-16.5 3.2,-16.1 3.35,-16 3.5,-15.6 3.65,-15.5 3.8,-15.2 3.95,-15 4.1,-14.8 4.25,-14.7 4.4,-14.5 4.55,-14.3 4.7,-14.2 4.85,-14 5,-13.8 5.15,-13.6 5.3,-13.5 5.45,-13.2 5.6,-13 5.75,-12.9 5.9,-12.7 6.05,-12.6 6.2,-12.4 6.35,-12.3 6.5,-12.1 6.65,-12.2 6.8,-11.9 6.95,-12 7.1,-11.8 7.25,-11.9 7.4,-11.7 7.55,-11.8 7.7,-12 7.85,-11.9 8,-12.1 8.15,-11.9 8.3,-12.2 8.45,-12 8.6,-12.3 8.75,-12.1 8.9,-12.4 9,-12.3"/>
  <polyline fill="none" stroke="#0b63f6" stroke-width="1.6" vector-effect="non-scaling-stroke" marker-start="url(#mci)" marker-mid="url(#mci)" marker-end="url(#mci)" points="-0.85,0.8 -0.7,0.4 -0.55,1 -0.4,0.2 -0.25,0.5 -0.1,0.3 0.05,-0.5 0.2,-4.3 0.35,-7 0.5,-8.7 0.65,-9.8 0.8,-10.4 0.95,-10.6 1.1,-10.8 1.25,-10.5 1.4,-11 1.55,-11.2 1.7,-10.7 1.85,-11 2,-11.3 2.15,-10.9 2.3,-11.5 2.45,-12.3 2.6,-10.6 2.75,-11.2 2.9,-10.2 3.05,-10.5 3.2,-10 3.35,-10.6 3.5,-10.1 3.65,-10.5 3.8,-9.9 3.95,-8.5 4.1,-10.3 4.25,-9.8 4.4,-10.6 4.55,-10.2 4.7,-9.7 4.85,-10.4 5,-9.8 5.15,-10.1 5.3,-9.6 5.45,-10 5.6,-9.5 5.75,-10.3 5.9,-9.8 6.05,-10.2 6.2,-9.6 6.35,-10.4 6.5,-10.7 6.65,-9.2 6.8,-9.9 6.95,-10.3 7.1,-9.7 7.25,-10.1 7.4,-9.9 7.55,-10.3 7.7,-10 7.85,-10.2 8,-9.8 8.15,-10.3 8.3,-10 8.45,-9.5 8.6,-10.1 8.75,-10.4 8.9,-9.3 9,-9.8"/>
</g>
<!-- GRK6-IN-2 -->
<g transform="translate(1323,1128) scale(26.56,-8.44)">
  <path fill="none" stroke="#858585" stroke-width="1" vector-effect="non-scaling-stroke" d="M1.7,-16.6V-18.6 M2.3,-16.2V-18.2 M2.9,-15.2V-17.2 M3.5,-14.2V-16.2 M4.4,-13.2V-15 M5.3,-12.3V-14.1 M6.2,-11.5V-13.3 M7.1,-11.2V-12.8 M8,-11.4V-13.2 M9,-11.7V-13.5"/>
  <path fill="none" stroke="#0b63f6" stroke-width="1" vector-effect="non-scaling-stroke" d="M1.25,-10.3V-12.3 M1.85,-10.2V-12.2 M3.2,-7.9V-9.7 M4.25,-9.2V-11.2 M5.75,-7.9V-9.7 M6.95,-8.3V-10.1 M8,-8.6V-10.4 M8.9,-8.2V-10"/>
  <polyline fill="none" stroke="#858585" stroke-width="1.6" vector-effect="non-scaling-stroke" marker-start="url(#msq)" marker-mid="url(#msq)" marker-end="url(#msq)" points="-0.85,0.1 -0.7,-0.8 -0.55,-0.2 -0.4,0.3 -0.25,-0.4 -0.1,0.2 0.05,-0.3 0.2,-6 0.35,-10.5 0.5,-13 0.65,-15 0.8,-16 0.95,-16.6 1.1,-17 1.25,-17.2 1.4,-17.4 1.55,-17.5 1.7,-17.7 1.85,-17.5 2,-17.8 2.15,-17.3 2.3,-17.1 2.45,-16.9 2.6,-16.6 2.75,-16.3 2.9,-16.2 3.05,-15.8 3.2,-15.7 3.35,-15.3 3.5,-15.2 3.65,-14.9 3.8,-14.8 3.95,-14.5 4.1,-14.4 4.25,-14.2 4.4,-14.1 4.55,-13.9 4.7,-13.8 4.85,-13.6 5,-13.5 5.15,-13.3 5.3,-13.2 5.45,-13 5.6,-13.1 5.75,-12.8 5.9,-12.6 6.05,-12.7 6.2,-12.4 6.35,-12.3 6.5,-12.2 6.65,-12.4 6.8,-12.1 6.95,-12.3 7.1,-12 7.25,-12.4 7.4,-12.2 7.55,-12.5 7.7,-12.1 7.85,-12.4 8,-12.3 8.15,-12.6 8.3,-12.2 8.45,-12.5 8.6,-12.4 8.75,-12.7 8.9,-12.3 9,-12.6"/>
  <polyline fill="none" stroke="#0b63f6" stroke-width="1.6" vector-effect="non-scaling-stroke" marker-start="url(#mci)" marker-mid="url(#mci)" marker-end="url(#mci)" points="-0.85,0.2 -0.7,0.6 -0.55,-0.1 -0.4,0.4 -0.25,0.3 -0.1,0.1 0.05,-0.4 0.2,-5 0.35,-8.5 0.5,-9.8 0.65,-10.2 0.8,-10.5 0.95,-11 1.1,-10.6 1.25,-11.3 1.4,-10.8 1.55,-11.5 1.7,-10.9 1.85,-11.2 2,-10.7 2.15,-11.1 2.3,-10.6 2.45,-10.8 2.6,-10.3 2.75,-10.6 2.9,-10.1 3.05,-10.4 3.2,-8.8 3.35,-10.2 3.5,-9.8 3.65,-10.3 3.8,-9.9 3.95,-10.1 4.1,-9.6 4.25,-10.2 4.4,-9.8 4.55,-10.4 4.7,-9.5 4.85,-10.1 5,-9.7 5.15,-10.3 5.3,-9.4 5.45,-9.9 5.6,-10.2 5.75,-8.8 5.9,-9.9 6.05,-10.3 6.2,-9.4 6.35,-10.2 6.5,-9.6 6.65,-10.4 6.8,-9.5 6.95,-9.2 7.1,-10 7.25,-9.4 7.4,-10.1 7.55,-9.7 7.7,-10.2 7.85,-9.8 8,-9.5 8.15,-10 8.3,-9.4 8.45,-10.2 8.6,-9.8 8.75,-9.6 8.9,-9.1 9,-9.9"/>
</g>
</svg>
</body>
</html>
